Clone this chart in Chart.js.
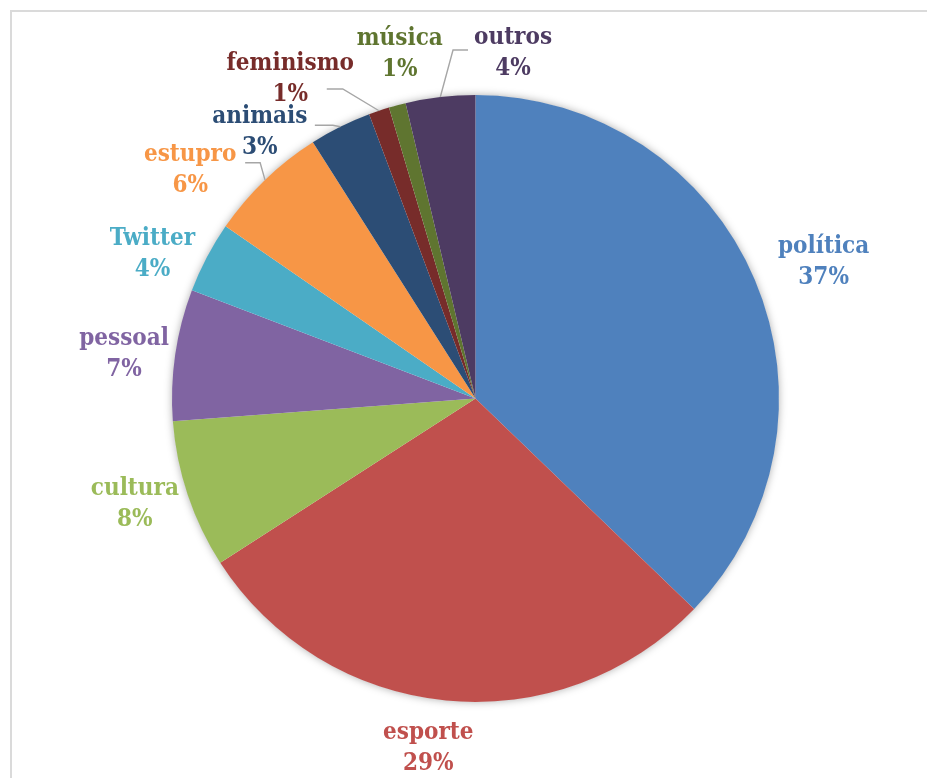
<!DOCTYPE html>
<html>
<head>
<meta charset="utf-8">
<script src="https://cdn.jsdelivr.net/npm/chart.js@4.4.1/dist/chart.umd.min.js"></script>
<style>
  html, body { margin: 0; padding: 0; background: #fff; }
  #wrap { position: relative; width: 927px; height: 778px; overflow: hidden; }
  #frame { position: absolute; left: 10px; top: 10px; width: 940px; height: 800px;
           border-left: 2px solid #dadada; border-top: 2px solid #dadada; }
  #pie { position: absolute; left: 0; top: 0; }
</style>
</head>
<body>
<div id="wrap">
  <div id="frame"></div>
  <canvas id="pie" width="927" height="778"></canvas>
</div>
<script>
// ── Dados ─────────────────────────────────────────────────────
const labels = ['política', 'esporte', 'cultura', 'pessoal', 'Twitter', 'estupro', 'animais', 'feminismo', 'música', 'outros'];
const values = [37.2, 28.7, 7.9, 7.0, 3.8, 6.4, 3.3, 1.1, 0.9, 3.7];
const colors = ['#4F81BD', '#C0504D', '#9BBB59', '#8064A2', '#4BACC6', '#F79646', '#2C4D75', '#772C2A', '#5F7530', '#4D3B62'];

// posição dos rótulos: [ângulo a partir do topo (graus), distância em raios]
const labelPos = [[68.6, 1.232], [187.7, 1.162], [252.8, 1.175], [277.1, 1.167], [294, 1.165],
                  [308.6, 1.203], [321, 1.129], [329.9, 1.217], [347.6, 1.162], [6.2, 1.145]];
// linhas de chamada: índice -> [dx início, dx cotovelo, dy] relativo ao centro do rótulo
const leaders = { 5: [55, 70, -8], 6: [55, 73, -7], 7: [36.5, 52.5, 10], 9: [-45, -60, -3] };

const total = values.reduce((s, v) => s + v, 0);
const FONT = 'bold 24px "DejaVu Serif Condensed", "DejaVu Serif", serif';

// ── Sombra do círculo ─────────────────────────────────────────
const pieShadow = {
  id: 'pieShadow',
  beforeDatasetsDraw(chart) {
    const a = chart.getDatasetMeta(0).data[0];
    if (!a) return;
    const ctx = chart.ctx;
    ctx.save();
    ctx.shadowColor = 'rgba(0,0,0,0.35)';
    ctx.shadowBlur = 9;
    ctx.fillStyle = '#fff';
    ctx.beginPath();
    ctx.arc(a.x, a.y, a.outerRadius - 0.5, 0, Math.PI * 2);
    ctx.fill();
    ctx.restore();
  }
};

// ── Rótulos externos ──────────────────────────────────────────
const outLabels = {
  id: 'outLabels',
  afterDatasetsDraw(chart) {
    const meta = chart.getDatasetMeta(0);
    const ctx = chart.ctx;
    ctx.save();
    meta.data.forEach((arc, i) => {
      const r = arc.outerRadius;
      const [deg, dist] = labelPos[i];
      const t = deg * Math.PI / 180;
      const cx = arc.x + Math.sin(t) * r * dist;
      const cy = arc.y - Math.cos(t) * r * dist;

      // linha de chamada
      if (leaders[i]) {
        const [d0, d1, dy] = leaders[i];
        const mid = (arc.startAngle + arc.endAngle) / 2;
        ctx.strokeStyle = '#a6a6a6';
        ctx.lineWidth = 1.4;
        ctx.beginPath();
        ctx.moveTo(cx + d0, cy + dy);
        ctx.lineTo(cx + d1, cy + dy);
        ctx.lineTo(arc.x + Math.cos(mid) * r, arc.y + Math.sin(mid) * r);
        ctx.stroke();
      }

      ctx.fillStyle = colors[i];
      ctx.font = FONT;
      ctx.textAlign = 'center';
      ctx.textBaseline = 'middle';
      ctx.fillText(labels[i], cx, cy - 15.5);
      ctx.fillText(Math.round(values[i] / total * 100) + '%', cx, cy + 15.5);
    });
    ctx.restore();
  }
};

new Chart(document.getElementById('pie'), {
  type: 'pie',
  data: {
    labels: labels,
    datasets: [{
      data: values,
      backgroundColor: colors,
      borderWidth: 0,
    }]
  },
  options: {
    responsive: false, animation: false,
    layout: { padding: { left: 172, right: 148, top: 95, bottom: 76 } },
    plugins: { legend: { display: false }, tooltip: { enabled: false } },
  },
  plugins: [pieShadow, outLabels]
});
</script>
</body>
</html>
